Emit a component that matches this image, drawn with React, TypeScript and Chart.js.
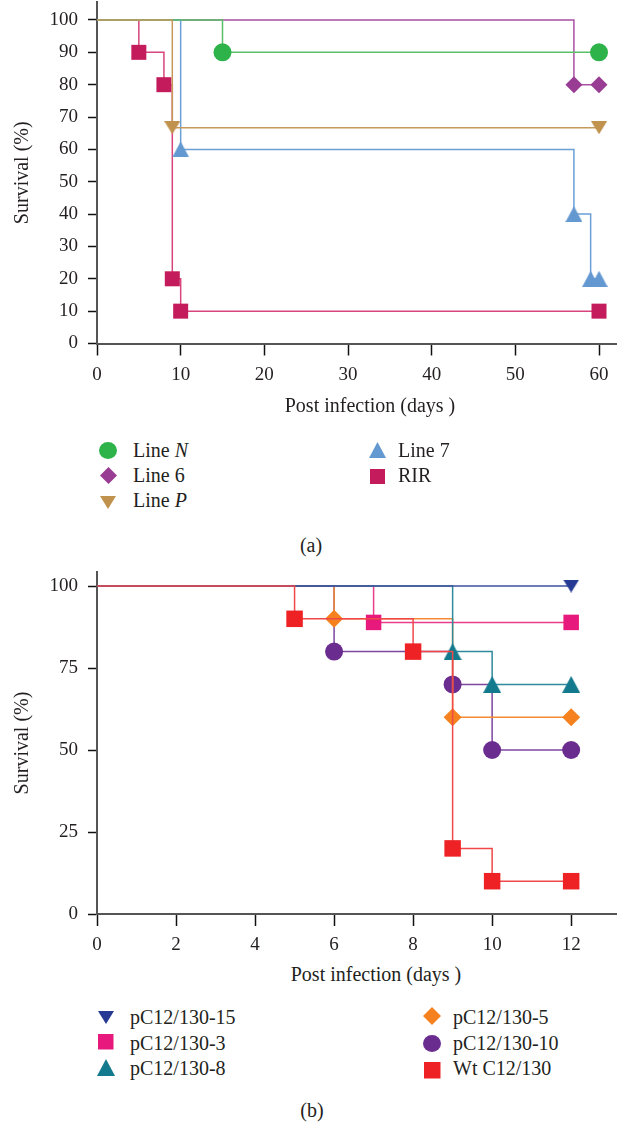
import React, { useEffect, useRef } from 'react';
import { Chart, registerables } from 'chart.js';

Chart.register(...registerables);

const FONT = "'Liberation Serif', 'Times New Roman', serif";
const TEXT = '#231f20';

// ---------- Panel (a) data ----------
const A_X_TICKS = [0, 10, 20, 30, 40, 50, 60];
const A_Y_TICKS = [0, 10, 20, 30, 40, 50, 60, 70, 80, 90, 100];
const LINE_N_DAYS = [0, 15, 60];
const LINE_N_SURVIVAL = [100, 90, 90];
const LINE_6_DAYS = [0, 57, 60];
const LINE_6_SURVIVAL = [100, 80, 80];
const LINE_P_DAYS = [0, 9, 60];
const LINE_P_SURVIVAL = [100, 66.7, 66.7];
const LINE_7_DAYS = [0, 10, 57, 59, 60];
const LINE_7_SURVIVAL = [100, 60, 40, 20, 20];
const RIR_DAYS = [0, 5, 8, 9, 10, 60];
const RIR_SURVIVAL = [100, 90, 80, 20, 10, 10];

// ---------- Panel (b) data ----------
const B_X_TICKS = [0, 2, 4, 6, 8, 10, 12];
const B_Y_TICKS = [0, 25, 50, 75, 100];
const PC15_DAYS = [0, 12];
const PC15_SURVIVAL = [100, 100];
const PC3_DAYS = [0, 7, 12];
const PC3_SURVIVAL = [100, 88.9, 88.9];
const PC8_DAYS = [0, 9, 10, 12];
const PC8_SURVIVAL = [100, 80, 70, 70];
const PC5_DAYS = [0, 6, 9, 12];
const PC5_SURVIVAL = [100, 90, 60, 60];
const PC10_DAYS = [0, 6, 9, 10, 12];
const PC10_SURVIVAL = [100, 80, 70, 50, 50];
const WT_DAYS = [0, 5, 8, 9, 10, 12];
const WT_SURVIVAL = [100, 90, 80, 20, 10, 10];

type Kind = 'circle' | 'diamond' | 'square' | 'up' | 'down';
interface MarkerSpec { kind: Kind; w: number; h: number; }

function triangleImage(w: number, h: number, color: string, down: boolean) {
  const c = document.createElement('canvas');
  c.width = w;
  c.height = h;
  const ctx = c.getContext('2d')!;
  ctx.fillStyle = color;
  ctx.beginPath();
  if (down) {
    ctx.moveTo(0, 0);
    ctx.lineTo(w, 0);
    ctx.lineTo(w / 2, h);
  } else {
    ctx.moveTo(w / 2, 0);
    ctx.lineTo(w, h);
    ctx.lineTo(0, h);
  }
  ctx.closePath();
  ctx.fill();
  return c;
}

function makeDataset(label: string, days: number[], surv: number[], line: string, marker: string, m: MarkerSpec) {
  let style: any = 'circle';
  let radius = m.w / 2;
  if (m.kind === 'diamond') style = 'rectRot';
  if (m.kind === 'square') { style = 'rect'; radius = m.w / (2 * Math.SQRT1_2); }
  if (m.kind === 'up' || m.kind === 'down') style = triangleImage(m.w, m.h, marker, m.kind === 'down');
  return {
    label,
    data: days.map((d, i) => ({ x: d, y: surv[i] })),
    borderColor: line,
    borderWidth: 1.5,
    stepped: true,
    fill: false,
    tension: 0,
    clip: false,
    pointStyle: style,
    pointRadius: days.map((_, i) => (i === 0 ? 0 : radius)),
    pointBackgroundColor: marker,
    pointBorderWidth: 0,
    pointBorderColor: marker,
  };
}

const zeroPadding = () => ({ left: 0, top: 0, right: 0, bottom: 0 });

function makeOptions(xTicks: number[], yTicks: number[], xMax: number, yMax: number, padTop: number, xAxisHeight: number) {
  const tickFont = { family: FONT, size: 19 };
  return {
    responsive: false,
    animation: false as const,
    events: [] as any[],
    layout: { autoPadding: false, padding: { top: padTop, left: 0, right: 0, bottom: 0 } },
    plugins: { legend: { display: false }, tooltip: { enabled: false } },
    scales: {
      x: {
        type: 'linear' as const,
        min: 0,
        max: xMax,
        afterBuildTicks: (s: any) => { s.ticks = xTicks.map((value) => ({ value })); },
        afterFit: (s: any) => {
          s.height = xAxisHeight;
          s.paddingLeft = 0; s.paddingRight = 0;
          s.getPadding = zeroPadding;
        },
        ticks: { font: tickFont, color: TEXT, padding: 8, maxRotation: 0, autoSkip: false },
        grid: { drawOnChartArea: false, drawTicks: true, tickLength: 12, tickColor: '#111', tickWidth: 1.5 },
        border: { display: true, color: '#555', width: 2 },
      },
      y: {
        type: 'linear' as const,
        min: 0,
        max: yMax,
        afterBuildTicks: (s: any) => { s.ticks = yTicks.map((value) => ({ value })); },
        afterFit: (s: any) => {
          s.width = 97;
          s.paddingTop = 0; s.paddingBottom = 0;
          s.getPadding = zeroPadding;
        },
        ticks: { font: tickFont, color: TEXT, padding: 10 },
        grid: { drawOnChartArea: false, drawTicks: true, tickLength: 9, tickColor: '#111', tickWidth: 1.5 },
        border: { display: true, color: '#555', width: 2 },
        title: { display: true, text: 'Survival (%)', color: TEXT, font: { family: FONT, size: 20 }, padding: { top: 11, bottom: 0 } },
      },
    },
  };
}

const A_MARKERS: Record<string, MarkerSpec> = {
  N: { kind: 'circle', w: 18, h: 17 },
  six: { kind: 'diamond', w: 17, h: 17 },
  P: { kind: 'down', w: 16, h: 13 },
  seven: { kind: 'up', w: 17, h: 16 },
  RIR: { kind: 'square', w: 15, h: 15 },
};
const B_MARKERS: Record<string, MarkerSpec> = {
  pc15: { kind: 'down', w: 16, h: 13 },
  pc3: { kind: 'square', w: 15.5, h: 15.5 },
  pc8: { kind: 'up', w: 18, h: 17 },
  pc5: { kind: 'diamond', w: 18, h: 18 },
  pc10: { kind: 'circle', w: 18, h: 17 },
  wt: { kind: 'square', w: 16.5, h: 16.5 },
};

const COLORS = {
  N: ['#5bbf6a', '#2db34a'],
  six: ['#a851a3', '#993d94'],
  P: ['#c6995a', '#c0924d'],
  seven: ['#6a9fd8', '#6398d0'],
  RIR: ['#d7457c', '#c31b5c'],
  pc15: ['#3d4f9f', '#263a94'],
  pc3: ['#ea3d8a', '#e8197d'],
  pc8: ['#2f8a9c', '#137a8d'],
  pc5: ['#f58a35', '#f5821f'],
  pc10: ['#7d47a0', '#6a2c8e'],
  wt: ['#f04848', '#ee2224'],
};

function Marker({ m, color, cx, cy }: { m: MarkerSpec; color: string; cx: number; cy: number }) {
  const { w, h } = m;
  let el: any;
  if (m.kind === 'circle') el = <ellipse cx={w / 2} cy={h / 2} rx={w / 2} ry={h / 2} fill={color} />;
  else if (m.kind === 'square') el = <rect x={0} y={0} width={w} height={h} fill={color} />;
  else if (m.kind === 'diamond') el = <polygon points={`${w / 2},0 ${w},${h / 2} ${w / 2},${h} 0,${h / 2}`} fill={color} />;
  else if (m.kind === 'up') el = <polygon points={`${w / 2},0 ${w},${h} 0,${h}`} fill={color} />;
  else el = <polygon points={`0,0 ${w},0 ${w / 2},${h}`} fill={color} />;
  return (
    <svg width={w} height={h} style={{ position: 'absolute', left: cx - w / 2, top: cy - h / 2, overflow: 'visible' }}>
      {el}
    </svg>
  );
}

function Label({ x, y, children }: { x: number; y: number; children: any }) {
  return (
    <div style={{ position: 'absolute', left: x, top: y - 12, height: 24, lineHeight: '24px', fontSize: 20, whiteSpace: 'nowrap' }}>
      {children}
    </div>
  );
}

function Centered({ x, y, children }: { x: number; y: number; children: any }) {
  return (
    <div style={{ position: 'absolute', left: x, top: y, transform: 'translate(-50%, -50%)', lineHeight: '24px', fontSize: 20, whiteSpace: 'nowrap' }}>
      {children}
    </div>
  );
}

export default function App() {
  const refA = useRef<HTMLCanvasElement>(null);
  const refB = useRef<HTMLCanvasElement>(null);

  useEffect(() => {
    const chartA = new Chart(refA.current!, {
      type: 'line',
      data: {
        datasets: [
          makeDataset('Line P', LINE_P_DAYS, LINE_P_SURVIVAL, COLORS.P[0], COLORS.P[1], A_MARKERS.P),
          makeDataset('Line N', LINE_N_DAYS, LINE_N_SURVIVAL, COLORS.N[0], COLORS.N[1], A_MARKERS.N),
          makeDataset('Line 7', LINE_7_DAYS, LINE_7_SURVIVAL, COLORS.seven[0], COLORS.seven[1], A_MARKERS.seven),
          makeDataset('Line 6', LINE_6_DAYS, LINE_6_SURVIVAL, COLORS.six[0], COLORS.six[1], A_MARKERS.six),
          makeDataset('RIR', RIR_DAYS, RIR_SURVIVAL, COLORS.RIR[0], COLORS.RIR[1], A_MARKERS.RIR),
        ] as any,
      },
      options: makeOptions(A_X_TICKS, A_Y_TICKS, 62.15, 105.56, 2, 56.5) as any,
    });
    const chartB = new Chart(refB.current!, {
      type: 'line',
      data: {
        datasets: [
          makeDataset('Wt C12/130', WT_DAYS, WT_SURVIVAL, COLORS.wt[0], COLORS.wt[1], B_MARKERS.wt),
          makeDataset('pC12/130-15', PC15_DAYS, PC15_SURVIVAL, COLORS.pc15[0], COLORS.pc15[1], B_MARKERS.pc15),
          makeDataset('pC12/130-8', PC8_DAYS, PC8_SURVIVAL, COLORS.pc8[0], COLORS.pc8[1], B_MARKERS.pc8),
          makeDataset('pC12/130-3', PC3_DAYS, PC3_SURVIVAL, COLORS.pc3[0], COLORS.pc3[1], B_MARKERS.pc3),
          makeDataset('pC12/130-5', PC5_DAYS, PC5_SURVIVAL, COLORS.pc5[0], COLORS.pc5[1], B_MARKERS.pc5),
          makeDataset('pC12/130-10', PC10_DAYS, PC10_SURVIVAL, COLORS.pc10[0], COLORS.pc10[1], B_MARKERS.pc10),
        ] as any,
      },
      options: makeOptions(B_X_TICKS, B_Y_TICKS, 13.16, 104.27, 12, 46) as any,
    });
    return () => {
      chartA.destroy();
      chartB.destroy();
    };
  }, []);

  return (
    <div style={{ position: 'absolute', left: 0, top: 0, width: 617, height: 1122, background: '#fff', fontFamily: FONT, color: TEXT, overflow: 'hidden' }}>
      <canvas ref={refA} width={617} height={400} style={{ position: 'absolute', left: 0, top: 0, width: 617, height: 400 }} />
      <canvas ref={refB} width={617} height={400} style={{ position: 'absolute', left: 0, top: 560, width: 617, height: 400 }} />

      <Centered x={370} y={405}>Post infection (days )</Centered>
      <Centered x={376} y={974}>Post infection (days )</Centered>

      {/* Legend (a) */}
      <Marker m={A_MARKERS.N} color={COLORS.N[1]} cx={108} cy={450} />
      <Label x={133} y={450}>Line <i>N</i></Label>
      <Marker m={A_MARKERS.six} color={COLORS.six[1]} cx={108} cy={475} />
      <Label x={133} y={475}>Line 6</Label>
      <Marker m={A_MARKERS.P} color={COLORS.P[1]} cx={108} cy={502} />
      <Label x={133} y={500}>Line <i>P</i></Label>
      <Marker m={A_MARKERS.seven} color={COLORS.seven[1]} cx={377} cy={450} />
      <Label x={398} y={450}>Line 7</Label>
      <Marker m={A_MARKERS.RIR} color={COLORS.RIR[1]} cx={377} cy={476} />
      <Label x={398} y={475}>RIR</Label>
      <Centered x={311} y={545}>(a)</Centered>

      {/* Legend (b) */}
      <Marker m={B_MARKERS.pc15} color={COLORS.pc15[1]} cx={106} cy={1017} />
      <Label x={130} y={1017}>pC12/130-15</Label>
      <Marker m={B_MARKERS.pc3} color={COLORS.pc3[1]} cx={106} cy={1042} />
      <Label x={130} y={1043}>pC12/130-3</Label>
      <Marker m={B_MARKERS.pc8} color={COLORS.pc8[1]} cx={106} cy={1067} />
      <Label x={130} y={1068}>pC12/130-8</Label>
      <Marker m={B_MARKERS.pc5} color={COLORS.pc5[1]} cx={432} cy={1016} />
      <Label x={453} y={1017}>pC12/130-5</Label>
      <Marker m={B_MARKERS.pc10} color={COLORS.pc10[1]} cx={432} cy={1043} />
      <Label x={453} y={1043}>pC12/130-10</Label>
      <Marker m={B_MARKERS.wt} color={COLORS.wt[1]} cx={432} cy={1070} />
      <Label x={453} y={1068}>Wt C12/130</Label>
      <Centered x={312} y={1110}>(b)</Centered>
    </div>
  );
}
